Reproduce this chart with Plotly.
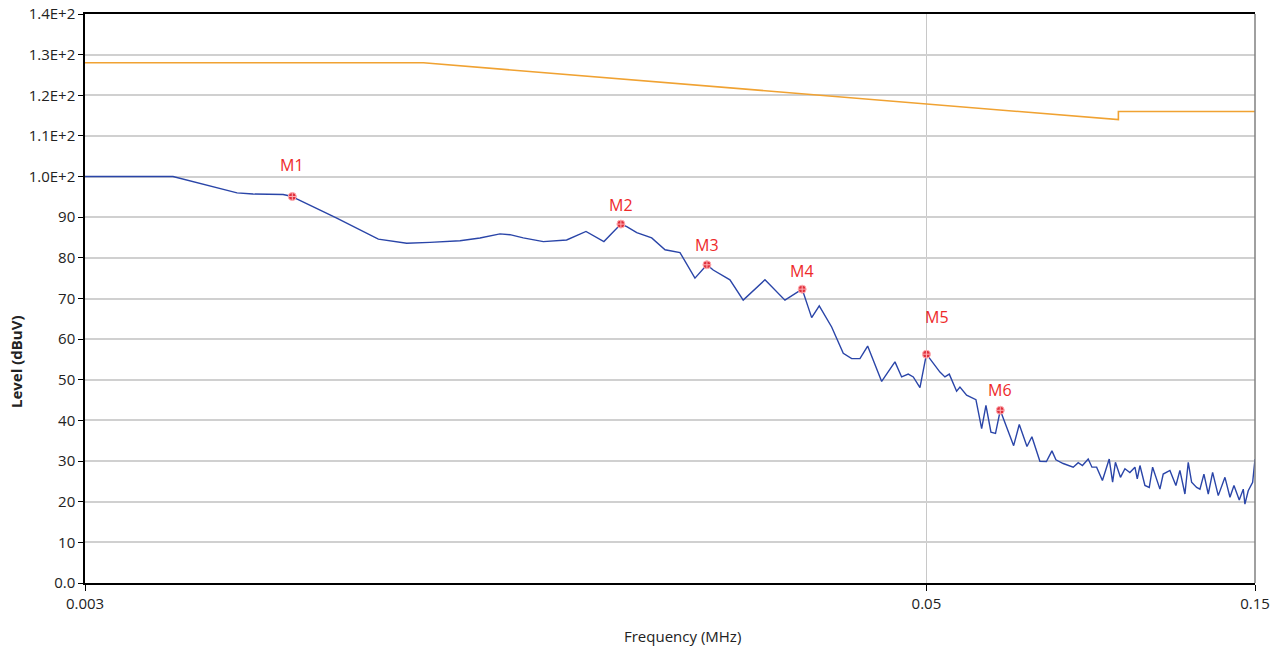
import math
import plotly.graph_objects as go

# Measured emission level (dBuV) versus frequency (MHz)
freq_mhz = [
    0.003, 0.004026, 0.004988, 0.005261, 0.005818, 0.0060, 0.006089, 0.006962,
    0.008000, 0.008796, 0.009506, 0.010512, 0.011236, 0.012016, 0.012423,
    0.012987, 0.013890, 0.015015, 0.016018, 0.017007, 0.018, 0.018358,
    0.018982, 0.019954, 0.020864, 0.021934, 0.023059, 0.024, 0.02451,
    0.02592, 0.027096, 0.029143, 0.031155, 0.033, 0.034065, 0.034941,
    0.036420, 0.037863, 0.038943, 0.040035, 0.041079, 0.04305, 0.045006,
    0.046023, 0.047052, 0.04785, 0.04893, 0.05, 0.05231, 0.05319, 0.05397,
    0.05531, 0.05593, 0.05719, 0.0590, 0.06014, 0.06101, 0.06204, 0.06299,
    0.064, 0.06693, 0.06820, 0.06998, 0.07114, 0.07307, 0.07468, 0.07607,
    0.07709, 0.07899, 0.08011, 0.08168, 0.08306, 0.08424, 0.08588, 0.08696,
    0.08833, 0.09006, 0.09213, 0.09318, 0.09406, 0.09566, 0.09710, 0.09872,
    0.10040, 0.10119, 0.10210, 0.10381, 0.10532, 0.10652, 0.10915, 0.11036,
    0.11286, 0.11514, 0.11669, 0.11867, 0.11999, 0.12135, 0.12341, 0.12478,
    0.12645, 0.12830, 0.13018, 0.13266, 0.13566, 0.13796, 0.13981, 0.14231,
    0.14423, 0.14503, 0.14664, 0.14883, 0.15,
]
level_dbuv = [
    100.0, 100.0, 96.0, 95.7, 95.6, 95.1, 94.5, 89.8,
    84.6, 83.6, 83.8, 84.2, 84.9, 85.9, 85.7,
    84.9, 84.0, 84.4, 86.5, 84.0, 88.3, 87.7,
    86.2, 84.9, 82.0, 81.3, 75.0, 78.3, 77.0,
    74.6, 69.6, 74.6, 69.6, 72.3, 65.3, 68.2,
    63.0, 56.5, 55.2, 55.2, 58.3, 49.6, 54.4,
    50.7, 51.4, 50.7, 48.1, 56.3, 51.9, 50.7, 51.4,
    47.2, 48.2, 46.2, 45.1, 38.0, 43.7, 37.1, 36.8,
    42.5, 33.8, 39.0, 33.6, 36.0, 29.95, 29.9, 32.5,
    30.3, 29.4, 29.0, 28.5, 29.6, 28.9, 30.5, 28.5,
    28.5, 25.2, 30.5, 24.8, 29.7, 26.0, 28.1, 27.2,
    28.5, 25.6, 28.9, 24.0, 23.5, 28.5, 23.1, 26.8,
    27.7, 24.0, 27.7, 21.9, 29.7, 24.8, 23.5, 23.1,
    26.8, 21.9, 27.2, 21.5, 26.0, 21.1, 24.0, 20.4,
    23.1, 19.4, 22.7, 24.8, 30.5,
]

# Limit line
limit_freq_mhz = [0.003, 0.0093, 0.095, 0.095, 0.15]
limit_dbuv = [128, 128, 114, 116, 116]

# Peak markers
marker_names = ["M1", "M2", "M3", "M4", "M5", "M6"]
marker_freq_mhz = [0.006, 0.018, 0.024, 0.033, 0.05, 0.064]
marker_dbuv = [95.1, 88.3, 78.3, 72.3, 56.3, 42.5]
# label offsets in pixels (dx, dy) relative to each marker
label_offsets = [(0, -31), (0, -19), (0, -20), (0, -18), (11, -37), (0, -20)]

# Axis ticks
x_tickvals = [0.003, 0.05, 0.15]
x_ticktext = ["0.003", "0.05", "0.15"]
y_tickvals = list(range(0, 150, 10))
y_ticktext = ["0.0", "10", "20", "30", "40", "50", "60", "70", "80", "90",
              "1.0E+2", "1.1E+2", "1.2E+2", "1.3E+2", "1.4E+2"]

FONT = "Open Sans, Noto Sans, DejaVu Sans, sans-serif"
PLOT_L, PLOT_R, PLOT_T, PLOT_B = 85, 1255, 14, 583
PW, PH = PLOT_R - PLOT_L, PLOT_B - PLOT_T

fig = go.Figure()

fig.add_trace(go.Scatter(
    x=limit_freq_mhz, y=limit_dbuv, mode="lines",
    line=dict(color="#f0a232", width=1.6), hoverinfo="skip", showlegend=False,
))
fig.add_trace(go.Scatter(
    x=freq_mhz, y=level_dbuv, mode="lines",
    line=dict(color="#2a45a8", width=1.4), showlegend=False,
))
fig.add_trace(go.Scatter(
    x=marker_freq_mhz, y=marker_dbuv, mode="markers",
    marker=dict(symbol="circle-cross", size=8, color="#e0303c",
                line=dict(color="#ffb0b5", width=1)),
    showlegend=False,
))

for name, fx, fy, (dx, dy) in zip(marker_names, marker_freq_mhz, marker_dbuv, label_offsets):
    fig.add_annotation(
        x=math.log10(fx), y=fy, text=name, showarrow=False,
        xshift=dx, yshift=-dy, xanchor="center", yanchor="middle",
        font=dict(family=FONT, size=16, color="#ee2a2a"),
    )

# Axis titles
fig.add_annotation(
    xref="paper", yref="paper", x=(682 - PLOT_L) / PW, y=-(636 - PLOT_B) / PH,
    xanchor="center", yanchor="middle",
    text="Frequency (MHz)", showarrow=False,
    font=dict(family=FONT, size=15, color="#222222"),
)
fig.add_annotation(
    xref="paper", yref="paper", x=-(PLOT_L - 16) / PW, y=(PLOT_B - 362) / PH,
    xanchor="center", yanchor="middle",
    text="Level (dBuV)", textangle=-90, showarrow=False,
    font=dict(family=FONT, size=15, color="#222222", weight="bold"),
)

# right border of the plot frame
fig.add_shape(type="line", xref="paper", yref="paper", x0=1, x1=1, y0=0, y1=1,
              line=dict(color="#808080", width=1.5))

fig.update_xaxes(
    type="log", range=[math.log10(0.003), math.log10(0.15)],
    tickvals=x_tickvals, ticktext=x_ticktext,
    showgrid=True, gridcolor="#c8c8c8", gridwidth=1,
    ticks="outside", ticklen=6, tickcolor="#000000", tickwidth=1,
    showline=True, linecolor="#000000", linewidth=1.5, mirror=True,
    tickfont=dict(family=FONT, size=15, color="#222222"),
    zeroline=False, automargin=False,
)
fig.update_yaxes(
    range=[0, 140], tickvals=y_tickvals, ticktext=y_ticktext,
    showgrid=True, gridcolor="#d0d0d0", gridwidth=1.5,
    ticks="outside", ticklen=5, tickcolor="#000000", tickwidth=1,
    showline=True, linecolor="#000000", linewidth=1.5,
    tickfont=dict(family=FONT, size=15, color="#222222"),
    zeroline=False, automargin=False,
)

fig.update_layout(
    width=1282, height=653,
    margin=dict(l=PLOT_L, r=1282 - PLOT_R, t=PLOT_T, b=653 - PLOT_B, autoexpand=False),
    plot_bgcolor="#ffffff", paper_bgcolor="#ffffff",
    font=dict(family=FONT),
    showlegend=False,
)

fig.write_html("out.html")
